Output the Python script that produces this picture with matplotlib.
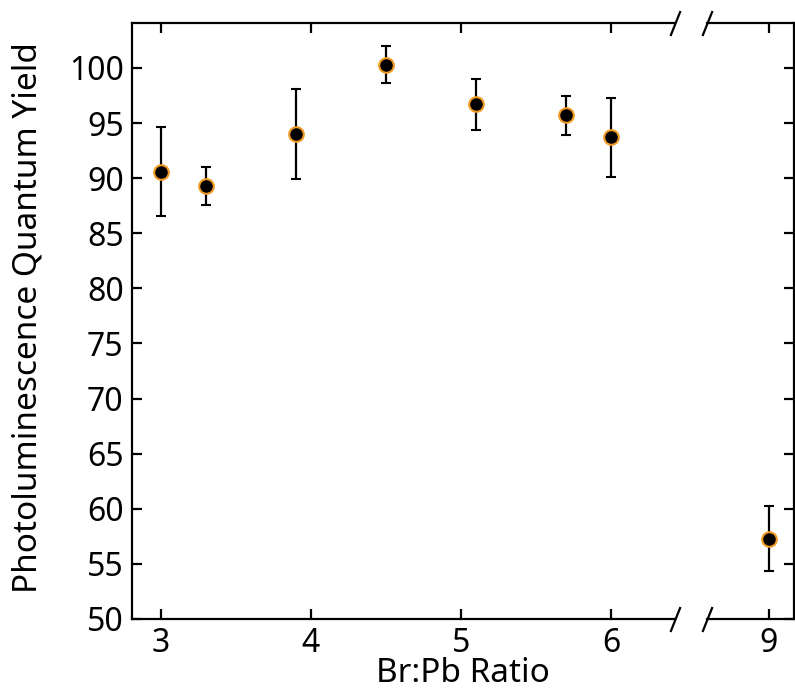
import matplotlib
matplotlib.use("Agg")
import matplotlib.pyplot as plt

plt.rcParams['font.family'] = ['Noto Sans', 'DejaVu Sans']

# Br:Pb ratio vs PLQY with error bars
ratio_left = [3.0, 3.3, 3.9, 4.5, 5.1, 5.7, 6.0]
plqy_left = [90.6, 89.3, 94.0, 100.3, 96.7, 95.7, 93.7]
err_left = [4.0, 1.75, 4.05, 1.7, 2.3, 1.8, 3.6]
ratio_right = [9.0]
plqy_right = [57.3]
err_right = [2.95]

xticks_left = [3, 4, 5, 6]
xticks_right = [9]
yticks = list(range(50, 101, 5))

W, H = 795, 691
fig = plt.figure(figsize=(W / 100, H / 100), dpi=100)
bottom, top = 619, 23
ax1 = fig.add_axes([132 / W, (H - bottom) / H, (675 - 132) / W, (bottom - top) / H])
ax2 = fig.add_axes([707 / W, (H - bottom) / H, (794 - 707) / W, (bottom - top) / H], sharey=ax1)

style = dict(fmt='o', color='black', ecolor='black', elinewidth=1.6,
             capsize=3.5, capthick=1.6, markersize=10.5,
             markerfacecolor='black', markeredgecolor='#f09a25', markeredgewidth=1.5)
ax1.errorbar(ratio_left, plqy_left, yerr=err_left, **style)
ax2.errorbar(ratio_right, plqy_right, yerr=err_right, **style)

ax1.set_xlim(2.807, 2.807 + (675 - 132) / 150)
ax2.set_xlim(9 - (769 - 707) / 150, 9 - (769 - 707) / 150 + (794 - 707) / 150)
ax1.set_ylim(50, 104.08)

for ax in (ax1, ax2):
    for s in ax.spines.values():
        s.set_linewidth(1.6)
    ax.tick_params(direction='in', length=7, width=1.6, labelsize=23, top=True, pad=6)
ax1.spines['right'].set_visible(False)
ax2.spines['left'].set_visible(False)
ax1.tick_params(right=False)
ax2.tick_params(left=False, right=True, labelleft=False)

ax1.set_xticks(xticks_left)
ax2.set_xticks(xticks_right)
ax1.set_yticks(yticks)

fig.text(28 / W, 1 - 318 / H, 'Photoluminescence Quantum Yield', fontsize=24,
         rotation=90, ha='center', va='center')
fig.text((132 + 794) / 2 / W, 1 - 674 / H, 'Br:Pb Ratio', fontsize=24,
         ha='center', va='center')

# break marks
slash = [(-1, -2.5), (1, 2.5)]
kw = dict(marker=slash, markersize=18, linestyle='none', color='k',
          mec='k', mew=1.6, clip_on=False)
ax1.plot([1, 1], [0, 1], transform=ax1.transAxes, **kw)
ax2.plot([0, 0], [0, 1], transform=ax2.transAxes, **kw)

fig.savefig('out.png', dpi=100)
